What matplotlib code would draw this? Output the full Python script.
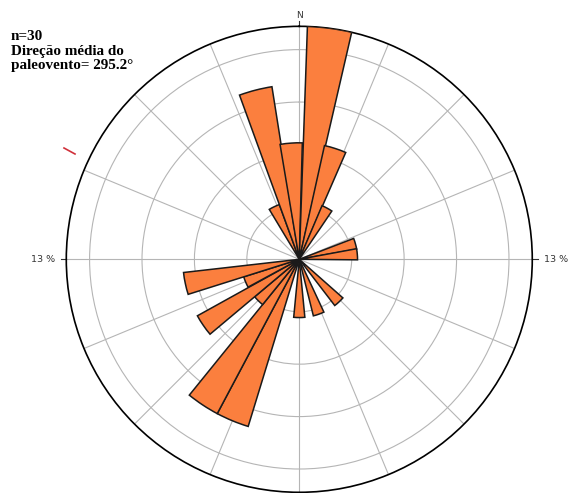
# Rose diagram of paleocurrent directions (n=30)

import numpy as np
import matplotlib
matplotlib.use('Agg')
import matplotlib.pyplot as plt

# Bin directions (azimuth of bin centre, degrees clockwise from N) and counts
directions = [334.5, 345.5, 356.0, 7.5, 18.0, 28.5, 74.5, 85.0, 137.0, 160.5, 180.0,
              202.5, 213.5, 224.5, 235.5, 247.0, 258.0]
counts = [1, 3, 2, 4, 2, 1, 1, 1, 1, 1, 1, 3, 3, 1, 2, 1, 2]
n_total = 30
bin_width = 11.0

ring_values = [3, 6, 9, 12]
max_pct = 4 / n_total * 100  # outer circle, labelled "13 %"
spoke_angles = np.arange(0, 360, 22.5)

info_text = 'n=30\nDireção média do\npaleovento= 295.2°'

pct = np.array(counts) / n_total * 100

fig = plt.figure(figsize=(5.68, 4.93), dpi=100)
ax = fig.add_axes([0.1167, 0.0014, 0.8204, 0.9452], projection='polar')
ax.set_theta_zero_location('N')
ax.set_theta_direction(-1)
ax.set_axisbelow(True)

ax.bar(np.radians(directions), pct, width=np.radians(bin_width), bottom=0,
       color='#fb7f3e', edgecolor='#1a1a1a', linewidth=1.1, zorder=3)

ax.set_ylim(0, max_pct)
ax.set_rgrids(ring_values, labels=[''] * len(ring_values))
ax.set_thetagrids(spoke_angles, labels=[''] * len(spoke_angles))
ax.grid(True, color='#b5b5b5', linewidth=0.8)
ax.spines['polar'].set_color('black')
ax.spines['polar'].set_linewidth(1.2)

# small ticks on the outer circle at the cardinal points
for t in [0, 90, 180, 270]:
    ax.plot([np.radians(t)] * 2, [max_pct, max_pct * 1.024], color='#333333',
            linewidth=0.8, clip_on=False)

ax.text(0, max_pct * 1.028, 'N', ha='center', va='bottom', fontsize=6.5, color='#333333')
ax.text(np.radians(90), max_pct * 1.05, '13 %', ha='left', va='center', fontsize=6.8, color='#333333')
ax.text(np.radians(270), max_pct * 1.05, '13 %', ha='right', va='center', fontsize=6.8, color='#333333')

fig.text(11 / 568, 1 - 30 / 493, info_text, ha='left', va='top', fontsize=10.9,
         fontweight='bold', family='Liberation Serif', linespacing=1.17)

# stray red mark left of the circle
fig.add_artist(plt.Line2D([64 / 568, 75 / 568], [1 - 148 / 493, 1 - 154 / 493],
                          color='#d0303a', linewidth=1.2))

fig.savefig('out.png', dpi=100)
